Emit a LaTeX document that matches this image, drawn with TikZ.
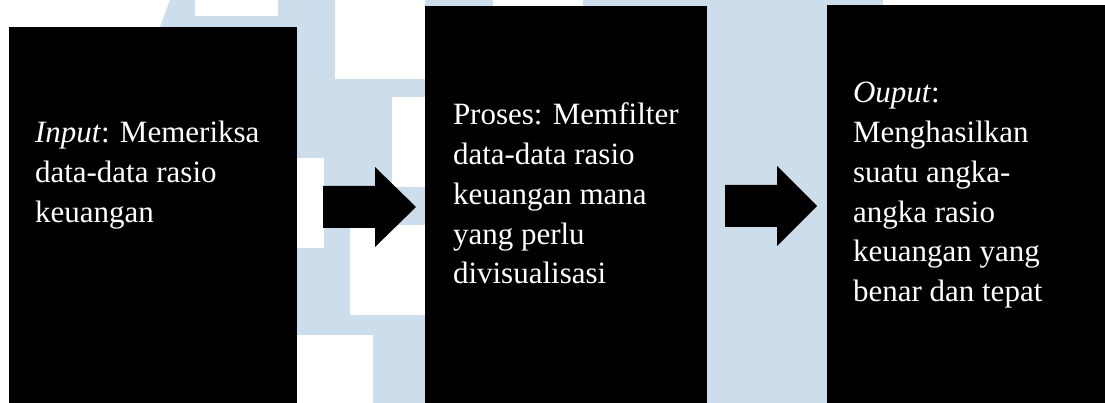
\documentclass[tikz,border=0pt]{standalone}
\usepackage{fontspec}
\newfontfamily\tnr{Liberation Serif}
\definecolor{wmblue}{RGB}{204,221,236}
\begin{document}
\begin{tikzpicture}[x=1pt,y=-1pt,
  box/.style={fill=black,draw=none,inner sep=0pt,outer sep=0pt,anchor=north west},
  txt/.style={text=white,inner sep=0pt,outer sep=0pt,align=left,anchor=base west,font=\tnr\fontsize{31}{39.7}\selectfont},
  blockarrow/.style={fill=black,draw=none}]
\useasboundingbox (0,0) rectangle (1105,403);
% watermark background
\fill[white] (0,0) rectangle (1105,403);
\fill[wmblue] (170,0) -- (900,0) -- (900,403) -- (20,403) -- cycle;
\fill[white] (883,0) rectangle (1105,5);
\fill[white] (195,0) rectangle (278,16);
\fill[white] (335,0) rectangle (425,79);
\fill[white] (392,97) rectangle (425,187);
\fill[white] (350,225) rectangle (425,315);
\fill[white] (297,158) rectangle (324,248);
\fill[white] (297,335) rectangle (373,403);
\fill[white] (493,0) rectangle (583,6);
% boxes
\node[box,minimum width=288pt,minimum height=376pt] (b1) at (9,27) {};
\node[box,minimum width=282pt,minimum height=397pt] (b2) at (425,6) {};
\node[box,minimum width=278pt,minimum height=398pt] (b3) at (827,5) {};
% texts (anchored at the baseline of their last line)
\node[txt] (t1) at (35,222.4) {\textit{Input}: Memeriksa\\data-data rasio\\keuangan};
\node[txt] (t2) at (453,283.8) {Proses: Memfilter\\data-data rasio\\keuangan mana\\yang perlu\\divisualisasi};
\node[txt] (t3) at (853,301.5) {\textit{Ouput}:\\Menghasilkan\\suatu angka-\\angka rasio\\keuangan yang\\benar dan tepat};
% block arrows
\coordinate (a1s) at (323,207);
\coordinate (a1t) at (416,207);
\coordinate (a2s) at (725,206);
\coordinate (a2t) at (817,206);
\fill[blockarrow] (a1s) ++(0,-21) -- ++(52,0) -- ++(0,-19) -- (a1t) -- ++(-41,40) -- ++(0,-19) -- ++(-52,0) -- cycle;
\fill[blockarrow] (a2s) ++(0,-21) -- ++(52,0) -- ++(0,-19) -- (a2t) -- ++(-40,40) -- ++(0,-19) -- ++(-52,0) -- cycle;
\end{tikzpicture}
\end{document}
